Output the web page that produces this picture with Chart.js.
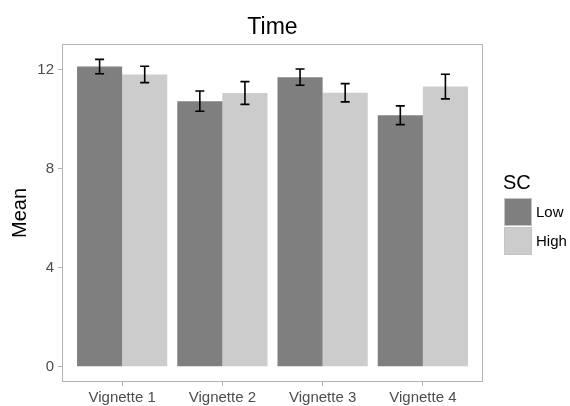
<!DOCTYPE html>
<html>
<head>
<meta charset="utf-8">
<script src="https://cdn.jsdelivr.net/npm/chart.js@4/dist/chart.umd.min.js"></script>
<style>
  html, body { margin: 0; padding: 0; background: #ffffff; }
  #wrap { width: 570px; height: 406px; }
</style>
</head>
<body>
<div id="wrap"><canvas id="c" width="570" height="406"></canvas></div>
<script>
// Mean time per vignette, split by SC group, with standard errors
const categories = ['Vignette 1', 'Vignette 2', 'Vignette 3', 'Vignette 4'];
const groupNames = ['Low', 'High'];
const lowMeans  = [12.14, 10.74, 11.71, 10.17];
const highMeans = [11.82, 11.07, 11.08, 11.33];
const lowSE     = [0.29, 0.41, 0.33, 0.38];
const highSE    = [0.33, 0.46, 0.37, 0.50];
const yTickValues = [0, 4, 8, 12];

const FONT = "'Liberation Sans', Arial, sans-serif";
const COLORS = ['#7f7f7f', '#cccccc'];
const PANEL_LINE = '#b3b3b3';

// y range padded 5% each side of [0, highest error bar top]
const yTop = Math.max(...lowMeans.map((m, i) => m + lowSE[i]), ...highMeans.map((m, i) => m + highSE[i]));
const yPad = yTop * 0.05;

const toPoints = means => means.map((m, i) => ({ x: i + 1, y: m }));
const errors = [lowSE, highSE];

const panelAndErrors = {
  id: 'panelAndErrors',
  afterDatasetsDraw(chart) {
    const { ctx, chartArea: a, scales: { y } } = chart;
    ctx.save();
    // error bars
    ctx.strokeStyle = '#000000';
    ctx.lineWidth = 1.6;
    chart.data.datasets.forEach((ds, d) => {
      const meta = chart.getDatasetMeta(d);
      meta.data.forEach((bar, i) => {
        const m = ds.data[i].y, se = errors[d][i];
        const yHi = y.getPixelForValue(m + se);
        const yLo = y.getPixelForValue(m - se);
        const cap = bar.width * 0.1;
        ctx.beginPath();
        ctx.moveTo(bar.x, yHi); ctx.lineTo(bar.x, yLo);
        ctx.moveTo(bar.x - cap, yHi); ctx.lineTo(bar.x + cap, yHi);
        ctx.moveTo(bar.x - cap, yLo); ctx.lineTo(bar.x + cap, yLo);
        ctx.stroke();
      });
    });
    // panel border
    ctx.strokeStyle = PANEL_LINE;
    ctx.lineWidth = 1;
    ctx.strokeRect(a.left + 0.5, a.top + 0.5, a.right - a.left - 1, a.bottom - a.top - 1);
    ctx.restore();
  },
  afterDraw(chart) {
    const { ctx, chartArea: a } = chart;
    const x0 = a.right + 21;
    ctx.save();
    ctx.fillStyle = '#000000';
    ctx.textBaseline = 'middle';
    ctx.textAlign = 'left';
    ctx.font = '20px ' + FONT;
    ctx.fillText('SC', x0 - 1, 183);
    const keyW = 28, keyH = 28, keyTop = 198;
    groupNames.forEach((name, k) => {
      const ky = keyTop + k * (keyH + 1);
      ctx.fillStyle = COLORS[k];
      ctx.fillRect(x0, ky, keyW, keyH);
      ctx.strokeStyle = '#c4c4c4';
      ctx.lineWidth = 1;
      ctx.strokeRect(x0 + 0.5, ky + 0.5, keyW - 1, keyH - 1);
      ctx.fillStyle = '#000000';
      ctx.font = '15px ' + FONT;
      ctx.fillText(name, x0 + keyW + 4, ky + keyH / 2 + 1);
    });
    ctx.restore();
  }
};

new Chart(document.getElementById('c'), {
  type: 'bar',
  data: {
    datasets: [
      { label: groupNames[0], data: toPoints(lowMeans), backgroundColor: COLORS[0], borderWidth: 0,
        categoryPercentage: 0.9, barPercentage: 1.0 },
      { label: groupNames[1], data: toPoints(highMeans), backgroundColor: COLORS[1], borderWidth: 0,
        categoryPercentage: 0.9, barPercentage: 1.0 }
    ]
  },
  options: {
    responsive: false,
    animation: false,
    layout: { padding: { left: 0, right: 87, top: 0, bottom: 0 } },
    plugins: {
      legend: { display: false },
      tooltip: { enabled: false },
      title: {
        display: true,
        fullSize: false,
        text: 'Time',
        color: '#000000',
        font: { family: FONT, size: 23, weight: 'normal' },
        padding: { top: 13.4, bottom: 3 }
      }
    },
    scales: {
      x: {
        type: 'linear',
        min: 0.4,
        max: 4.6,
        offset: false,
        afterBuildTicks: s => { s.ticks = categories.map((c, i) => ({ value: i + 1 })); },
        afterFit: s => { s.height = 24; },
        ticks: {
          autoSkip: false, maxRotation: 0, padding: 3,
          color: '#4d4d4d',
          font: { family: FONT, size: 15 },
          callback: v => categories[Math.round(v) - 1]
        },
        grid: { offset: false, drawOnChartArea: false, drawTicks: true, tickLength: 4, tickColor: PANEL_LINE, tickWidth: 1 },
        border: { display: false }
      },
      y: {
        min: -yPad,
        max: yTop + yPad,
        afterBuildTicks: s => { s.ticks = yTickValues.map(v => ({ value: v })); },
        afterFit: s => { s.width = 62; },
        ticks: { padding: 4, color: '#4d4d4d', font: { family: FONT, size: 15 } },
        grid: { drawOnChartArea: false, drawTicks: true, tickLength: 4, tickColor: PANEL_LINE, tickWidth: 1 },
        border: { display: false },
        title: {
          display: true, text: 'Mean', color: '#000000',
          font: { family: FONT, size: 20 },
          padding: { top: 8, bottom: 0 }
        }
      }
    }
  },
  plugins: [panelAndErrors]
});
</script>
</body>
</html>
